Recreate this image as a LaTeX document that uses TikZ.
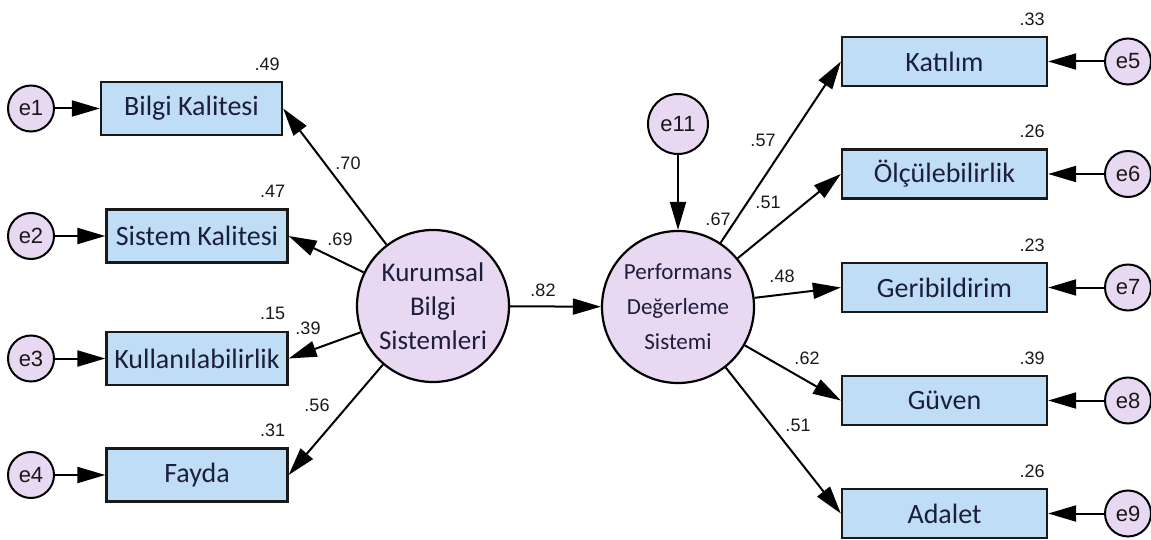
\documentclass[tikz,border=0pt]{standalone}
\usepackage{fontspec}
\setmainfont{Carlito}
\newfontfamily\arialfont{Liberation Sans}
\usetikzlibrary{arrows.meta}
\definecolor{boxfill}{RGB}{191,222,245}
\definecolor{latfill}{RGB}{232,216,242}
\definecolor{txt}{RGB}{28,30,60}
\begin{document}
\begin{tikzpicture}[x=1pt,y=-1pt,
  obsL/.style={draw=black!90, line width=2.3pt, fill=boxfill, minimum width=181pt, minimum height=53pt,
    inner sep=0pt, text=txt, font=\fontsize{28}{33}\selectfont},
  obsR/.style={obsL, minimum width=205pt, minimum height=49pt},
  latent/.style={circle, draw=black, line width=2.2pt, fill=latfill, minimum size=152pt, inner sep=0pt,
    align=center, text=txt},
  err/.style={circle, draw=black, line width=2pt, fill=latfill, minimum size=46pt, inner sep=0pt,
    text=black!90, font=\arialfont\fontsize{22}{24}\selectfont},
  reg/.style={line width=2pt, -{Triangle[length=28pt,width=16pt]}},
  coef/.style={font=\arialfont\fontsize{18}{20}\selectfont, text=black!90, inner sep=0pt},
]
\useasboundingbox (0,0) rectangle (1151,540);

% latent variables
\node[latent, font=\fontsize{27}{34}\selectfont] (kbs) at (433,306) {Kurumsal\\Bilgi\\Sistemleri};
\node[latent, font=\fontsize{23}{35}\selectfont] (pds) at (678,307) {Performans\\Değerleme\\Sistemi};
\node[err, minimum size=60pt] (e11) at (678,124) {e11};

% indicators of Kurumsal Bilgi Sistemleri
\node[obsL] (bk) at (191.5,108.5) {Bilgi Kalitesi};
\node[obsL] (sk) at (197,236) {Sistem Kalitesi};
\node[obsL] (ku) at (197,358.5) {Kullanılabilirlik};
\node[obsL] (fa) at (197,475) {Fayda};

% indicators of Performans Değerleme Sistemi
\node[obsR] (ka) at (944.5,61.5) {Katılım};
\node[obsR] (ol) at (944.5,174) {Ölçülebilirlik};
\node[obsR] (ge) at (944.5,287.5) {Geribildirim};
\node[obsR] (gu) at (944.5,400.5) {Güven};
\node[obsR] (ad) at (944.5,513.5) {Adalet};

% error terms
\node[err] (e1) at (31,108.5) {e1};
\node[err] (e2) at (31,236) {e2};
\node[err] (e3) at (31,358.5) {e3};
\node[err] (e4) at (31,475) {e4};
\node[err] (e5) at (1128,61.5) {e5};
\node[err] (e6) at (1128,174) {e6};
\node[err] (e7) at (1128,287.5) {e7};
\node[err] (e8) at (1128,400.5) {e8};
\node[err] (e9) at (1128,513.5) {e9};

% error paths
\foreach \e/\b in {e1/bk,e2/sk,e3/ku,e4/fa}
  \draw[reg] (\e) -- (\b.west);
\foreach \e/\b in {e5/ka,e6/ol,e7/ge,e8/gu,e9/ad}
  \draw[reg] (\e) -- (\b.east);
\draw[reg] (e11) -- (pds);

% loadings
\foreach \b in {bk,sk,ku,fa}
  \draw[reg] (kbs) -- (\b.east);
\foreach \b in {ka,ol,ge,gu,ad}
  \draw[reg] (pds) -- (\b.west);
\draw[reg] (kbs) -- (pds);

% path coefficients
\node[coef] at (348,163) {.70};
\node[coef] at (340,239) {.69};
\node[coef] at (308,328) {.39};
\node[coef] at (317,405) {.56};
\node[coef] at (543,290) {.82};
\node[coef] at (718,219) {.67};
\node[coef] at (763,140) {.57};
\node[coef] at (768,202) {.51};
\node[coef] at (782,276) {.48};
\node[coef] at (807,358) {.62};
\node[coef] at (798,425) {.51};

% squared multiple correlations
\foreach \b/\v in {bk/.49,sk/.47,ku/.15,fa/.31,ka/.33,ol/.26,ge/.23,gu/.39,ad/.26}
  \node[coef] at ([xshift=-16pt,yshift=17pt]\b.north east) {\v};
\end{tikzpicture}
\end{document}
